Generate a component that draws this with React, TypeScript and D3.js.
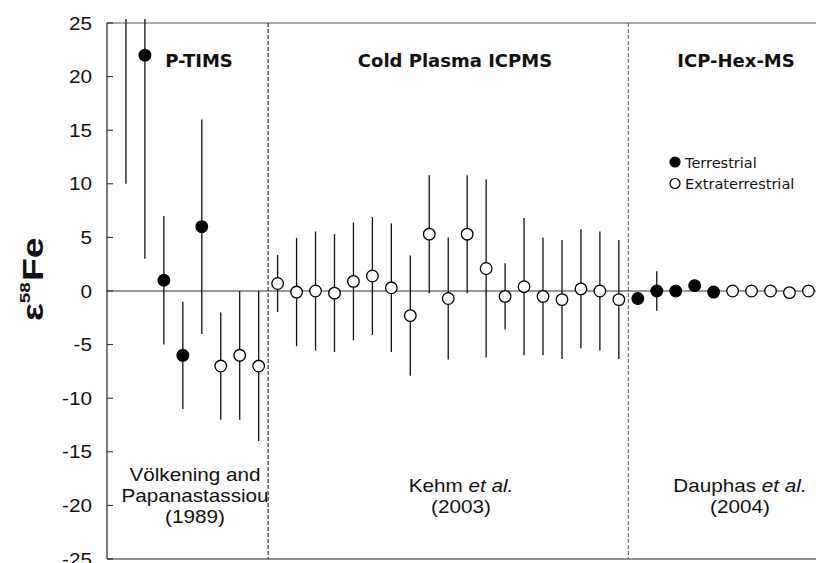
import React from "react";
import * as d3 from "d3";

// ---- data ----
const pTimsValues = [28, 22, 1, -6, 6, -7, -6, -7];
const pTimsErrors = [18, 19, 6, 5, 10, 5, 6, 7];
const pTimsTypes = ["T", "T", "T", "T", "T", "E", "E", "E"];

const coldValues = [0.7, -0.1, 0, -0.2, 0.9, 1.4, 0.3, -2.3, 5.3, -0.7, 5.3, 2.1, -0.5, 0.4, -0.5, -0.8, 0.2, 0, -0.8];
const coldErrors = [2.65, 5.05, 5.55, 5.5, 5.5, 5.5, 6.0, 5.6, 5.5, 5.7, 5.5, 8.3, 3.1, 6.4, 5.5, 5.55, 5.55, 5.55, 5.55];
const coldTypes = coldValues.map(() => "E");

const hexValues = [-0.7, 0, 0, 0.5, -0.1, 0, 0, 0, -0.15, 0];
const hexErrors = [0.6, 1.85, 0.2, 0.2, 0.2, 0.2, 0.2, 0.35, 0.5, 0.2];
const hexTypes = ["T", "T", "T", "T", "T", "E", "E", "E", "E", "E"];

const yTicks = [25, 20, 15, 10, 5, 0, -5, -10, -15, -20, -25];
const methodTitles = ["P-TIMS", "Cold Plasma ICPMS", "ICP-Hex-MS"];
const separators = [8.5, 27.5];
const legendItems = [
  { label: "Terrestrial", type: "T" },
  { label: "Extraterrestrial", type: "E" },
];

// ---- layout ----
const W = 816;
const H = 563;
const left = 107;
const top = 23;
const bottom = 559;
const helv = "'Liberation Sans', Arial, Helvetica, sans-serif";
const verd = "'DejaVu Sans', Verdana, sans-serif";
const SX = 1.15;

const allValues = [...pTimsValues, ...coldValues, ...hexValues];
const allErrors = [...pTimsErrors, ...coldErrors, ...hexErrors];
const allTypes = [...pTimsTypes, ...coldTypes, ...hexTypes];
const points = allValues.map((v, k) => ({ i: k + 1, v, e: allErrors[k], t: allTypes[k] }));

export default function App() {
  const x = d3.scaleLinear().domain([0, 37.4]).range([left, W]);
  const y = d3.scaleLinear().domain([-25, 25]).range([bottom, top]);
  const clipTop = y(25) - 4;
  const r = 5.8;

  return (
    <svg width={W} height={H} style={{ position: "absolute", left: 0, top: 0, background: "#fff" }}>
      {/* frame */}
      <line x1={left} x2={W} y1={top} y2={top} stroke="#555" strokeWidth={1} />
      <line x1={left} x2={left} y1={top} y2={bottom} stroke="#222" strokeWidth={1.2} />
      <line x1={left} x2={W} y1={bottom} y2={bottom} stroke="#222" strokeWidth={1.2} />

      {/* zero line */}
      <line x1={left} x2={W} y1={y(0)} y2={y(0)} stroke="#333" strokeWidth={1} />

      {/* separators */}
      {separators.map((s, k) => (
        <line key={k} x1={x(s)} x2={x(s)} y1={top} y2={bottom}
          stroke={k === 0 ? "#111" : "#555"} strokeWidth={1} strokeDasharray="4,2" />
      ))}

      {/* y ticks */}
      {yTicks.map((t) => (
        <g key={t}>
          <line x1={left} x2={left + 6} y1={y(t)} y2={y(t)} stroke="#222" strokeWidth={1} />
          <text transform={`translate(92,${y(t) + 6.5}) scale(${SX},1)`} textAnchor="end"
            fontFamily={helv} fontSize={18} fill="#111">{t}</text>
        </g>
      ))}

      {/* y title */}
      <text transform="translate(43,321) rotate(-90) scale(1.25,1)" fontFamily={helv} fontWeight="bold" fontSize={30} fill="#111">
        <tspan>ε</tspan>
        <tspan fontSize={15} dy={-13}>58</tspan>
        <tspan dy={13} dx={1}>Fe</tspan>
      </text>

      {/* error bars */}
      {points.map((p) => (
        <line key={"e" + p.i} x1={x(p.i)} x2={x(p.i)}
          y1={Math.max(y(p.v + p.e), clipTop)} y2={Math.min(y(p.v - p.e), bottom)}
          stroke="#111" strokeWidth={1.3} />
      ))}
      {/* markers */}
      {points.filter((p) => y(p.v) > top).map((p) => (
        <circle key={"m" + p.i} cx={x(p.i)} cy={y(p.v)} r={r}
          fill={p.t === "T" ? "#000" : "#fff"} stroke="#000" strokeWidth={1.3} />
      ))}

      {/* method titles */}
      {methodTitles.map((m, k) => (
        <text key={m} x={[199, 455, 736][k]} y={67} textAnchor="middle"
          fontFamily={verd} fontWeight="bold" fontSize={18} fill="#111">{m}</text>
      ))}

      {/* legend */}
      {legendItems.map((it, k) => (
        <g key={it.label}>
          <circle cx={675} cy={162 + k * 21.5} r={5} fill={it.type === "T" ? "#000" : "#fff"} stroke="#000" strokeWidth={1.2} />
          <text x={685} y={167.5 + k * 21.5} fontFamily={verd} fontSize={14.5} fill="#111">{it.label}</text>
        </g>
      ))}

      {/* references */}
      <g fontFamily={helv} fontSize={18} fill="#111" textAnchor="middle">
        <text transform={`translate(195,481) scale(${SX},1)`}>Völkening and</text>
        <text transform={`translate(195,502) scale(${SX},1)`}>Papanastassiou</text>
        <text transform={`translate(195,523) scale(${SX},1)`}>(1989)</text>
        <text transform={`translate(461,492) scale(${SX},1)`}>Kehm <tspan fontStyle="italic">et al.</tspan></text>
        <text transform={`translate(461,513) scale(${SX},1)`}>(2003)</text>
        <text transform={`translate(740,492) scale(${SX},1)`}>Dauphas <tspan fontStyle="italic">et al.</tspan></text>
        <text transform={`translate(740,513) scale(${SX},1)`}>(2004)</text>
      </g>
    </svg>
  );
}
